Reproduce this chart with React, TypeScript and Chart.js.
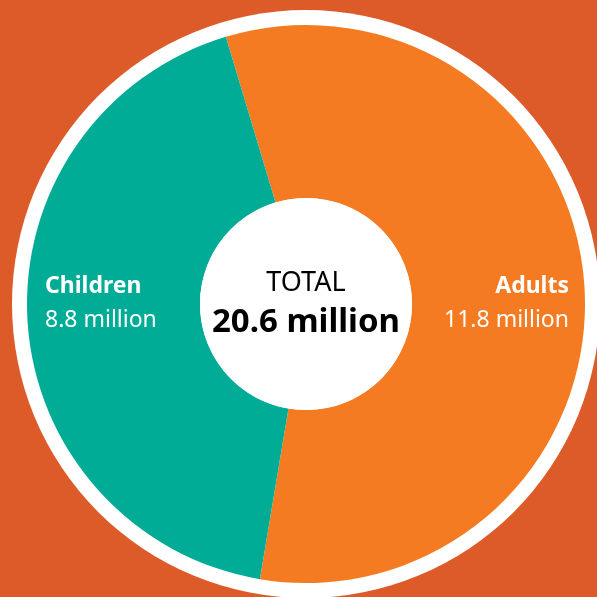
import React, { useEffect, useRef } from "react";
import { Chart, registerables } from "chart.js";

Chart.register(...registerables);

const categories = ["Adults", "Children"];
const values = [11.8, 8.8];
const valueLabels = ["11.8 million", "8.8 million"];
const totalLabel = "TOTAL";
const totalValue = "20.6 million";

const BG = "#DD5A29";
const COLORS = ["#F47B21", "#00AC96"];
const FONT = "'Noto Sans', 'Open Sans', sans-serif";

const decorPlugin = {
  id: "decor",
  beforeDraw(chart: any) {
    const { ctx, width, height } = chart;
    const meta = chart.getDatasetMeta(0);
    const arc = meta.data[0];
    if (!arc) return;
    const { x, y, outerRadius } = arc.getProps(["x", "y", "outerRadius"], true);
    ctx.save();
    ctx.fillStyle = BG;
    ctx.fillRect(0, 0, width, height);
    ctx.beginPath();
    ctx.arc(x, y, outerRadius + 15, 0, Math.PI * 2);
    ctx.fillStyle = "#FFFFFF";
    ctx.fill();
    ctx.restore();
  },
  afterDraw(chart: any) {
    const { ctx } = chart;
    const meta = chart.getDatasetMeta(0);
    const arc = meta.data[0];
    if (!arc) return;
    const { x, y, outerRadius, innerRadius } = arc.getProps(["x", "y", "outerRadius", "innerRadius"], true);
    ctx.save();
    ctx.beginPath();
    ctx.arc(x, y, innerRadius, 0, Math.PI * 2);
    ctx.fillStyle = "#FFFFFF";
    ctx.fill();

    ctx.fillStyle = "#000000";
    ctx.textAlign = "center";
    ctx.textBaseline = "alphabetic";
    ctx.font = `400 27px ${FONT}`;
    ctx.fillText(totalLabel, x, y - 13);
    ctx.font = `700 33px ${FONT}`;
    ctx.fillText(totalValue, x, y + 28);

    ctx.fillStyle = "#FFFFFF";
    // Children (left)
    ctx.textAlign = "left";
    ctx.font = `700 23px ${FONT}`;
    ctx.fillText(categories[1], x - outerRadius + 18, y - 11);
    ctx.font = `400 23px ${FONT}`;
    ctx.fillText(valueLabels[1], x - outerRadius + 18, y + 23);
    // Adults (right)
    ctx.textAlign = "right";
    ctx.font = `700 23px ${FONT}`;
    ctx.fillText(categories[0], x + outerRadius - 16, y - 11);
    ctx.font = `400 23px ${FONT}`;
    ctx.fillText(valueLabels[0], x + outerRadius - 16, y + 23);
    ctx.restore();
  },
};

export default function App() {
  const ref = useRef<HTMLCanvasElement | null>(null);
  useEffect(() => {
    document.body.style.margin = "0";
    if (!ref.current) return;
    const chart = new Chart(ref.current, {
      type: "doughnut",
      data: {
        labels: categories,
        datasets: [
          {
            data: values,
            backgroundColor: COLORS,
            borderWidth: 0,
          },
        ],
      },
      options: {
        animation: false,
        responsive: false,
        cutout: "38%",
        rotation: -16.7,
        layout: { padding: { left: 27, right: 12, top: 25, bottom: 14 } },
        plugins: {
          legend: { display: false },
          tooltip: { enabled: false },
        },
      },
      plugins: [decorPlugin],
    });
    return () => chart.destroy();
  }, []);
  return (
    <div style={{ position: "fixed", left: 0, top: 0, width: 597, height: 597, background: BG }}>
      <canvas ref={ref} width={597} height={597} style={{ display: "block" }} />
    </div>
  );
}
